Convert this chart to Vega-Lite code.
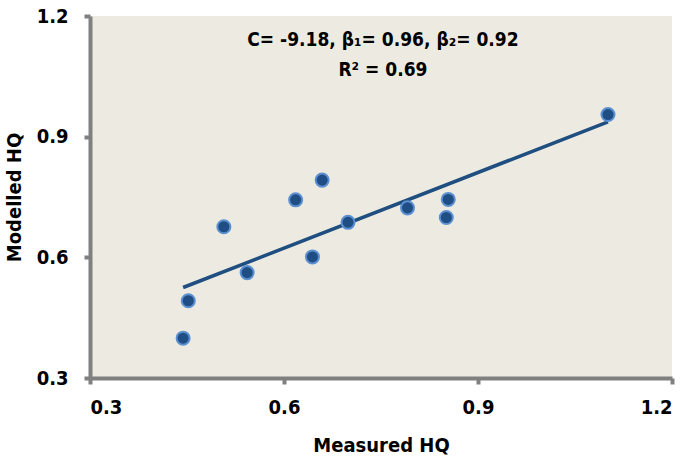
{
  "$schema": "https://vega.github.io/schema/vega-lite/v6.json",
  "width": 582,
  "height": 362,
  "autosize": "none",
  "padding": {"left": 90, "top": 16, "right": 13, "bottom": 88},
  "background": "white",
  "config": {
    "view": {"fill": "#EDEBE1", "stroke": null},
    "axis": {
      "grid": false,
      "domainColor": "#808080",
      "domainWidth": 4,
      "tickColor": "#808080",
      "tickWidth": 4,
      "tickSize": 6,
      "labelFont": "'DejaVu Sans Condensed', 'Liberation Sans', sans-serif",
      "labelFontWeight": "bold",
      "labelFontSize": 20,
      "labelColor": "#000000",
      "titleFont": "'DejaVu Sans Condensed', 'Liberation Sans', sans-serif",
      "titleFontWeight": "bold",
      "titleFontSize": 20,
      "titleColor": "#000000"
    }
  },
  "datasets": {
    "points": [
      {"measured": 0.444, "modelled": 0.399},
      {"measured": 0.452, "modelled": 0.492},
      {"measured": 0.507, "modelled": 0.676},
      {"measured": 0.543, "modelled": 0.562},
      {"measured": 0.618, "modelled": 0.743},
      {"measured": 0.644, "modelled": 0.601},
      {"measured": 0.659, "modelled": 0.792},
      {"measured": 0.699, "modelled": 0.687},
      {"measured": 0.791, "modelled": 0.723},
      {"measured": 0.854, "modelled": 0.744},
      {"measured": 0.851, "modelled": 0.699},
      {"measured": 1.101, "modelled": 0.955}
    ],
    "fit": [
      {"measured": 0.444, "modelled": 0.525},
      {"measured": 1.101, "modelled": 0.937}
    ],
    "labels": [
      {"measured": 0.753, "modelled": 1.140, "text": "C= -9.18, β₁= 0.96, β₂= 0.92"},
      {"measured": 0.753, "modelled": 1.066, "text": "R² = 0.69"}
    ]
  },
  "layer": [
    {
      "data": {"name": "fit"},
      "mark": {"type": "line", "color": "#1F4E80", "strokeWidth": 3.5},
      "encoding": {
        "x": {"field": "measured", "type": "quantitative", "scale": {"domain": [0.3, 1.2], "nice": false}, "axis": {"values": [0.3, 0.6, 0.9, 1.2], "format": ".1f", "title": "Measured HQ", "labelPadding": 13, "titlePadding": 18}},
        "y": {"field": "modelled", "type": "quantitative", "scale": {"domain": [0.3, 1.2], "nice": false, "zero": false}, "axis": {"values": [0.3, 0.6, 0.9, 1.2], "format": ".1f", "title": "Modelled HQ", "labelPadding": 16, "titlePadding": 12}}
      }
    },
    {
      "data": {"name": "points"},
      "mark": {"type": "point", "filled": true, "fill": "#1F4E85", "stroke": "#5B8FD0", "strokeWidth": 2, "size": 170, "opacity": 1},
      "encoding": {
        "x": {"field": "measured", "type": "quantitative"},
        "y": {"field": "modelled", "type": "quantitative"}
      }
    },
    {
      "data": {"name": "labels"},
      "mark": {"type": "text", "font": "'DejaVu Sans Condensed', 'Liberation Sans', sans-serif", "fontWeight": "bold", "fontSize": 19, "color": "#000000", "align": "center", "baseline": "middle"},
      "encoding": {
        "x": {"field": "measured", "type": "quantitative"},
        "y": {"field": "modelled", "type": "quantitative"},
        "text": {"field": "text"}
      }
    }
  ]
}
